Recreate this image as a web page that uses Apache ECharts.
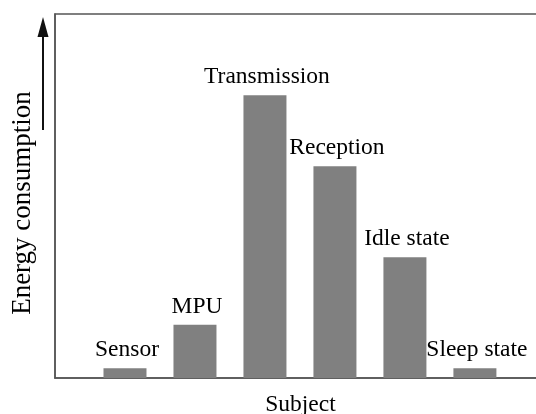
<!DOCTYPE html>
<html>
<head>
<meta charset="utf-8">
<script src="https://cdn.jsdelivr.net/npm/echarts@6/dist/echarts.min.js"></script>
<style>
html,body{margin:0;padding:0;background:#fff;}
#chart{width:536px;height:414px;}
</style>
</head>
<body>
<div id="chart"></div>
<script>
const categories = ['Sensor', 'MPU', 'Transmission', 'Reception', 'Idle state', 'Sleep state'];
const positions = [1, 2, 3, 4, 5, 6];
const energyValues = [2.7, 14.6, 77.7, 58.2, 33.2, 2.7];
const xAxisTitle = 'Subject';
const yAxisTitle = 'Energy consumption';

const FONT = '"Liberation Serif", "Times New Roman", serif';
const chart = echarts.init(document.getElementById('chart'), null, {renderer: 'canvas'});

const seriesData = positions.map((p, i) => ({value: [p, energyValues[i]], name: categories[i]}));

chart.setOption({
  animation: false,
  backgroundColor: '#fff',
  grid: {
    left: 55, top: 14, right: -4, bottom: 36,
    containLabel: false, outerBoundsMode: 'none',
    show: true, borderColor: '#555', borderWidth: 1.5, backgroundColor: 'transparent'
  },
  xAxis: {
    type: 'value', min: 0, max: 6.93,
    name: xAxisTitle, nameLocation: 'middle', nameGap: 15,
    nameTextStyle: {fontFamily: FONT, fontSize: 23.5, color: '#000', padding: [0, 0, 0, 6]},
    axisLine: {show: true, lineStyle: {color: '#555', width: 1.5}},
    axisTick: {show: false}, axisLabel: {show: false}, splitLine: {show: false}
  },
  yAxis: {
    type: 'value', min: 0, max: 100,
    name: yAxisTitle, nameLocation: 'middle', nameGap: 19,
    nameTextStyle: {fontFamily: FONT, fontSize: 27, color: '#000', padding: [0, 14, 0, 0]},
    axisLine: {show: true, lineStyle: {color: '#555', width: 1.5}},
    axisTick: {show: false}, axisLabel: {show: false}, splitLine: {show: false}
  },
  series: [{
    type: 'bar',
    data: seriesData,
    barWidth: 43,
    itemStyle: {color: '#808080'},
    label: {
      show: true, position: 'top', distance: 6, offset: [2, 0],
      formatter: p => p.name,
      fontFamily: FONT, fontSize: 23.5, color: '#000'
    }
  }],
  graphic: [
    {type: 'line', shape: {x1: 43, y1: 130, x2: 43, y2: 32}, style: {stroke: '#111', lineWidth: 2}},
    {type: 'polygon', shape: {points: [[43, 17], [37.5, 37], [48.5, 37]]}, style: {fill: '#111'}}
  ]
});
</script>
</body>
</html>
